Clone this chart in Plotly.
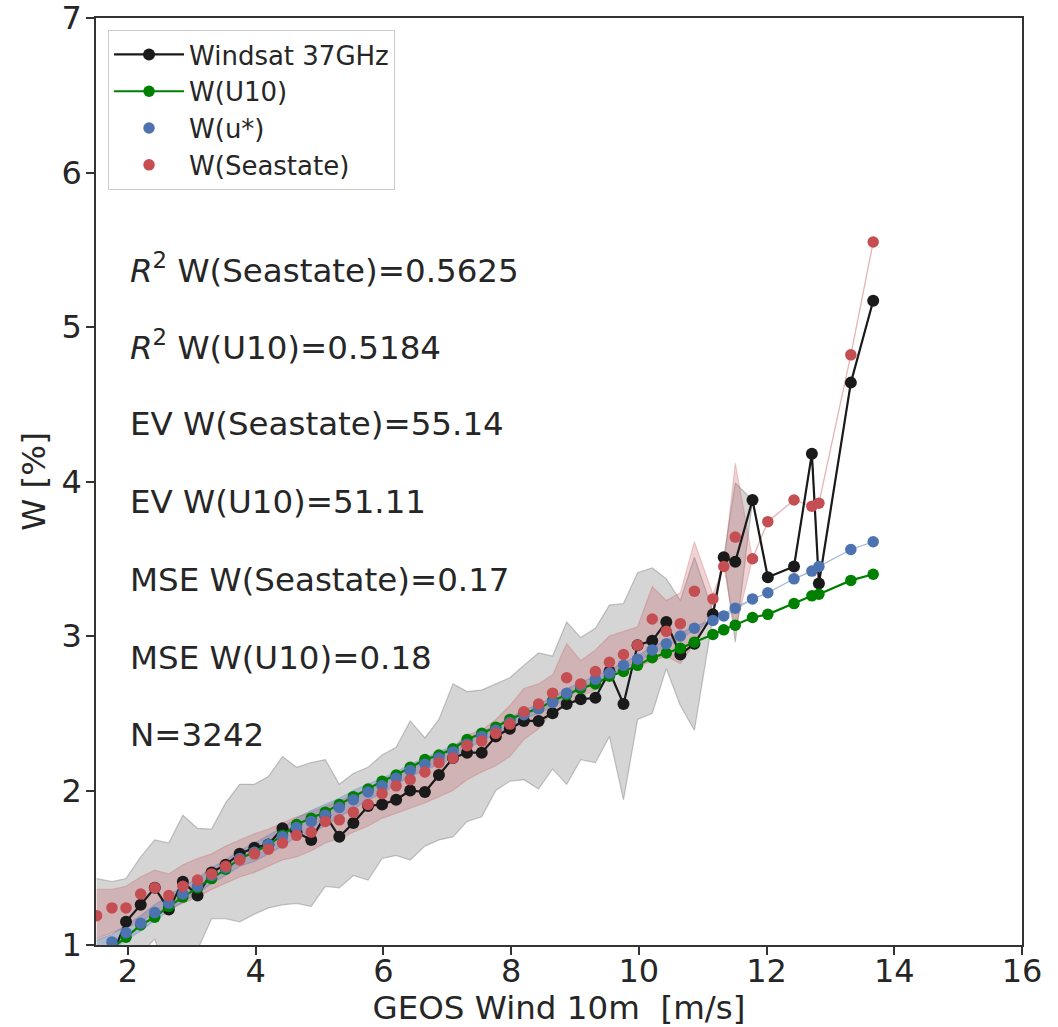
import plotly.graph_objects as go

# ---- data ----
wind = [1.51, 1.75, 1.97, 2.20, 2.42, 2.64, 2.86, 3.09, 3.31, 3.53, 3.75, 3.98, 4.20, 4.42, 4.64,
        4.87, 5.09, 5.31, 5.53, 5.76, 5.98, 6.20, 6.42, 6.65, 6.87, 7.09, 7.31, 7.54, 7.76, 7.98,
        8.20, 8.43, 8.65, 8.87, 9.09, 9.32, 9.54, 9.76, 9.98, 10.21, 10.43, 10.65, 10.87, 11.16,
        11.33, 11.51, 11.78, 12.02, 12.43, 12.71, 12.82, 13.32, 13.67]

windsat = [None, 0.93, 1.15, 1.26, 1.37, 1.23, 1.41, 1.32, 1.47, 1.52, 1.59, 1.63, 1.65, 1.755, 1.73,
           1.68, 1.84, 1.70, 1.79, 1.90, 1.91, 1.94, 2.00, 1.99, 2.10, 2.21, 2.245, 2.245, 2.35, 2.40,
           2.45, 2.45, 2.50, 2.56, 2.59, 2.60, 2.77, 2.56, 2.94, 2.97, 3.09, 2.88, 2.95, 3.14,
           3.51, 3.48, 3.88, 3.38, 3.45, 4.18, 3.34, 4.64, 5.17]
windsat_hi = [1.43, 1.41, 1.43, 1.57, 1.68, 1.66, 1.84, 1.755, 1.75, 1.92, 2.04, 2.04, 2.09, 2.22, 2.15,
              2.18, 2.20, 2.04, 2.11, 2.15, 2.23, 2.28, 2.45, 2.34, 2.46, 2.69, 2.64, 2.65, 2.69, 2.73,
              2.81, 2.89, 2.87, 3.09, 2.99, 3.05, 3.20, 3.21, 3.41, 3.44, 3.37, 3.23, 3.51, 3.16,
              3.51, 3.99, 3.88, 3.38, 3.45, 4.18, 3.34, 4.64, 5.17]
windsat_lo = [0.90, 0.85, 0.90, 0.94, 1.04, 0.75, 0.80, 0.97, 1.17, 1.17, 1.15, 1.20, 1.24, 1.26, 1.27,
              1.25, 1.38, 1.37, 1.45, 1.42, 1.56, 1.58, 1.55, 1.64, 1.68, 1.70, 1.80, 1.83, 2.00, 2.06,
              2.07, 2.01, 2.14, 2.04, 2.20, 2.18, 2.35, 1.94, 2.46, 2.50, 2.79, 2.55, 2.39, 3.12,
              3.51, 2.96, 3.88, 3.38, 3.45, 4.18, 3.34, 4.64, 5.17]

w_u10 = [None, 0.98, 1.05, 1.13, 1.18, 1.25, 1.31, 1.37, 1.43, 1.49, 1.56, 1.60, 1.65, 1.71, 1.78,
         1.82, 1.86, 1.91, 1.96, 2.01, 2.06, 2.10, 2.15, 2.20, 2.23, 2.27, 2.33, 2.37, 2.41, 2.46,
         2.50, 2.53, 2.58, 2.62, 2.66, 2.69, 2.74, 2.77, 2.81, 2.86, 2.89, 2.92, 2.96, 3.01,
         3.04, 3.07, 3.12, 3.14, 3.21, 3.26, 3.27, 3.36, 3.40]

w_ustar = [None, 1.02, 1.08, 1.14, 1.21, 1.27, 1.33, 1.38, 1.45, 1.50, 1.56, 1.60, 1.65, 1.70, 1.76,
           1.80, 1.84, 1.89, 1.94, 1.99, 2.03, 2.08, 2.13, 2.17, 2.21, 2.25, 2.30, 2.35, 2.39, 2.44,
           2.49, 2.53, 2.57, 2.63, 2.68, 2.72, 2.76, 2.81, 2.85, 2.91, 2.95, 3.00, 3.05, 3.10,
           3.13, 3.18, 3.24, 3.28, 3.37, 3.42, 3.45, 3.56, 3.61]
w_ustar_hi = [1.03, 1.07, 1.13, 1.19, 1.26, 1.32, 1.38, 1.43, 1.50, 1.55, 1.61, 1.66, 1.71, 1.76, 1.82,
              1.87, 1.91, 1.95, 2.00, 2.04, 2.08, 2.12, 2.17, 2.21, 2.25, 2.29, 2.33, 2.38, 2.42, 2.47,
              2.52, 2.56, 2.60, 2.66, 2.70, 2.74, 2.78, 2.83, 2.87, 2.93, 2.97, 3.02, 3.06, 3.11,
              3.14, 3.19, 3.24, 3.28, 3.37, 3.42, 3.45, 3.56, 3.61]
w_ustar_lo = [0.93, 0.97, 1.03, 1.09, 1.16, 1.22, 1.28, 1.33, 1.40, 1.45, 1.51, 1.54, 1.59, 1.64, 1.70,
              1.73, 1.77, 1.83, 1.88, 1.94, 1.98, 2.04, 2.09, 2.13, 2.17, 2.21, 2.27, 2.32, 2.36, 2.41,
              2.46, 2.50, 2.54, 2.60, 2.66, 2.70, 2.74, 2.79, 2.83, 2.89, 2.93, 2.98, 3.04, 3.09,
              3.12, 3.17, 3.24, 3.28, 3.37, 3.42, 3.45, 3.56, 3.61]

w_sea = [1.19, 1.24, 1.24, 1.33, 1.37, 1.32, 1.38, 1.42, 1.46, 1.51, 1.55, 1.59, 1.62, 1.66, 1.71,
         1.73, 1.80, 1.81, 1.86, 1.91, 1.98, 2.03, 2.07, 2.12, 2.18, 2.21, 2.29, 2.32, 2.37, 2.43,
         2.51, 2.56, 2.63, 2.73, 2.69, 2.77, 2.83, 2.88, 2.94, 3.11, 3.03, 3.08, 3.29, 3.24,
         3.45, 3.64, 3.50, 3.74, 3.88, 3.84, 3.86, 4.82, 5.55]
w_sea_hi = [1.36, 1.36, 1.38, 1.44, 1.485, 1.46, 1.52, 1.56, 1.59, 1.64, 1.68, 1.72, 1.75, 1.79, 1.83,
            1.86, 1.895, 1.93, 1.97, 2.01, 2.07, 2.11, 2.15, 2.19, 2.24, 2.28, 2.36, 2.39, 2.46, 2.55,
            2.66, 2.69, 2.75, 2.95, 2.84, 2.91, 3.00, 3.03, 3.06, 3.32, 3.23, 3.28, 3.61, 3.27,
            3.45, 4.12, 3.50, 3.74, 3.88, 3.84, 3.86, 4.82, 5.55]
w_sea_lo = [1.04, 1.08, 1.11, 1.15, 1.21, 1.23, 1.27, 1.31, 1.36, 1.40, 1.44, 1.47, 1.51, 1.55, 1.57,
            1.61, 1.66, 1.69, 1.73, 1.77, 1.82, 1.85, 1.885, 1.92, 1.96, 2.00, 2.07, 2.12, 2.16, 2.22,
            2.33, 2.40, 2.51, 2.55, 2.61, 2.65, 2.73, 2.78, 2.80, 2.84, 2.87, 2.82, 2.95, 3.21,
            3.45, 3.04, 3.50, 3.74, 3.88, 3.84, 3.86, 4.82, 5.55]

stats_text = ["<i>R</i><sup>2</sup> W(Seastate)=0.5625",
              "<i>R</i><sup>2</sup> W(U10)=0.5184",
              "EV W(Seastate)=55.14",
              "EV W(U10)=51.11",
              "MSE W(Seastate)=0.17",
              "MSE W(U10)=0.18",
              "N=3242"]
stats_y = [5.38, 4.88, 4.37, 3.87, 3.36, 2.86, 2.36]

x_ticks = [2, 4, 6, 8, 10, 12, 14, 16]
y_ticks = [1, 2, 3, 4, 5, 6, 7]

BLACK = "#1a1a1a"
GREEN = "#008000"
BLUE = "#4c72b0"
RED = "#c44e52"
FONT = "DejaVu Sans"
TXT = "#262626"

fig = go.Figure()


def band(lo, hi, fill, edge):
    fig.add_trace(go.Scatter(x=wind, y=lo, mode="lines", line=dict(color=edge, width=1.2),
                             showlegend=False, hoverinfo="skip"))
    fig.add_trace(go.Scatter(x=wind, y=hi, mode="lines", line=dict(color=edge, width=1.2),
                             fill="tonexty", fillcolor=fill, showlegend=False, hoverinfo="skip"))


band(windsat_lo, windsat_hi, "rgba(128,128,128,0.33)", "rgba(128,128,128,0.45)")
band(w_sea_lo, w_sea_hi, "rgba(196,78,82,0.25)", "rgba(196,78,82,0.25)")
band(w_ustar_lo, w_ustar_hi, "rgba(76,114,176,0.28)", "rgba(76,114,176,0.3)")

fig.add_trace(go.Scatter(x=wind, y=windsat, mode="lines+markers", name="Windsat 37GHz",
                         line=dict(color=BLACK, width=2.2), marker=dict(color=BLACK, size=12)))
fig.add_trace(go.Scatter(x=wind, y=w_u10, mode="lines+markers", name="W(U10)",
                         line=dict(color=GREEN, width=2.2), marker=dict(color=GREEN, size=11.5)))
fig.add_trace(go.Scatter(x=wind, y=w_ustar, mode="markers", name="W(u*)",
                         marker=dict(color=BLUE, size=11.5)))
fig.add_trace(go.Scatter(x=wind, y=w_sea, mode="markers", name="W(Seastate)",
                         marker=dict(color=RED, size=11.5)))

for txt, yy in zip(stats_text, stats_y):
    fig.add_annotation(x=2.0, y=yy, xref="x", yref="y", text=txt, showarrow=False,
                       xanchor="left", yanchor="middle",
                       font=dict(size=32.5, color=TXT, family=FONT))

axis_common = dict(showgrid=False, zeroline=False, showline=True, mirror=True,
                   linecolor="#333333", linewidth=1.5, ticks="outside", ticklen=8,
                   tickwidth=1.5, tickcolor="#333333", automargin=False,
                   ticklabeloverflow="allow",
                   tickfont=dict(size=32, color=TXT, family=FONT))

fig.update_xaxes(range=[1.5, 16], tickvals=x_ticks, ticklabelstandoff=-11,
                 title=dict(text="GEOS Wind 10m\u00a0\u00a0[m/s]", standoff=4,
                            font=dict(size=32.5, color=TXT, family=FONT)),
                 **axis_common)
fig.update_yaxes(range=[1, 7], tickvals=y_ticks, ticklabelstandoff=-2,
                 title=dict(text="W [%]", standoff=6,
                            font=dict(size=32.5, color=TXT, family=FONT)),
                 **axis_common)

fig.update_layout(
    width=1058, height=1027,
    margin=dict(l=96, r=36, t=18, b=82, autoexpand=False),
    plot_bgcolor="white", paper_bgcolor="white",
    font=dict(family=FONT, color=TXT),
    legend=dict(x=0.013, y=0.987, xanchor="left", yanchor="top", traceorder="normal",
                bgcolor="rgba(255,255,255,0.85)", bordercolor="#cccccc", borderwidth=1,
                font=dict(size=26, color=TXT, family=FONT), itemwidth=70,
                tracegroupgap=0),
    showlegend=True,
)

fig.write_html("out.html")
